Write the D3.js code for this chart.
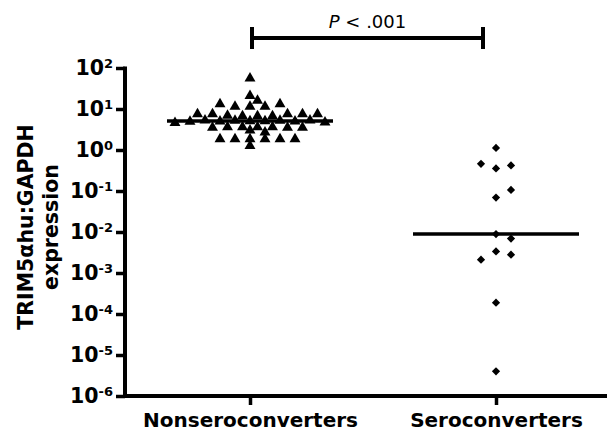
<!DOCTYPE html>
<html>
<head>
<meta charset="utf-8">
<script src="https://cdn.jsdelivr.net/npm/d3@7"></script>
<style>
  body { margin: 0; background: #fff; }
  svg { display: block; font-family: "DejaVu Sans", sans-serif; }
</style>
</head>
<body>
<div class="chart"></div>
<script>
const categories = ["Nonseroconverters", "Seroconverters"]

// TRIM5αhu:GAPDH expression
const nonseroconverters = [
    56, 21, 16, 13.2, 13.2, 11.4, 11.4, 11.4,
    7.5, 7.5, 7.5, 7.5, 7.5, 6.7, 6.7, 6.7, 6.9,
    5.2, 5.3, 5.1, 5.0, 5.2, 4.9, 5.1, 5.0, 5.3, 4.7, 4.6,
    3.6, 3.5, 3.6, 3.6, 3.0, 3.5, 3.6, 3.5, 2.7,
    1.85, 1.85, 1.85, 1.85, 1.85, 1.85, 1.27
]
const seroconverters = [
    1.12, 0.46, 0.42, 0.356, 0.106, 0.069,
    0.0089, 0.0069, 0.00336, 0.00279, 0.00211,
    0.000189, 0.000004
]

const yTicks = [1e-6, 1e-5, 1e-4, 1e-3, 1e-2, 1e-1, 1e0, 1e1, 1e2]
const yTitle = ["TRIM5αhu:GAPDH", "expression"]
const pText = ["P", " < .001"]

const width = 610
const height = 431
const margin = ({top: 68, right: 3, bottom: 35, left: 125})

const svg = d3.create("svg")
    .attr("width", width)
    .attr("height", height)

const x = d3.scalePoint()
    .domain(categories)
    .range([margin.left + 2, margin.left + 2 + 492])
    .padding(0.5)

const y = d3.scaleLog()
    .domain([1e-6, 1e2])
    .range([height - margin.bottom, margin.top])

// beeswarm: points nearest the median are placed first, each one on the
// nearest free slot of a grid (diamond shaped collision test)
function swarm(values, step, a, b) {
    const ym = y(d3.median(values))
    const pts = values.map(v => ({v, py: y(v)}))
        .sort((p, q) => Math.abs(p.py - ym) - Math.abs(q.py - ym))
    const placed = []
    pts.forEach(p => {
        for (let k = 0; k < 80; k++) {
            const off = (k === 0 ? 0 : (k % 2 ? 1 : -1) * Math.ceil(k / 2)) * step
            const free = placed.every(q =>
                Math.abs(q.dx - off) / a + Math.abs(q.py - p.py) / b >= 1)
            if (free) { p.dx = off; break }
        }
        placed.push(p)
    })
    return placed
}

// y axis
const yAxis = svg.append("g")
    .attr("transform", `translate(${margin.left},0)`)
    .call(d3.axisLeft(y).tickValues(yTicks).tickSize(9).tickSizeOuter(0).tickFormat(""))
yAxis.select(".domain").attr("stroke-width", 4)
    .attr("d", `M0,${y(1e-6) + 2}V${y(1e2) - 1.5}`)
yAxis.selectAll(".tick line").attr("stroke-width", 3.5)

yAxis.selectAll(".tick")
    .append("text")
    .attr("x", -12)
    .attr("y", 6.5)
    .attr("fill", "#000")
    .attr("text-anchor", "end")
    .style("font-size", "20.5px")
    .style("font-weight", "bold")
    .style("font-family", "DejaVu Sans")
    .each(function (d) {
        const t = d3.select(this)
        t.append("tspan").text("10")
        t.append("tspan")
            .attr("dy", -7)
            .style("font-size", "13px")
            .text(String(Math.round(Math.log10(d))))
    })

// x axis
const xAxis = svg.append("g")
    .attr("transform", `translate(0,${y(1e-6)})`)
    .call(d3.axisBottom(x).tickSize(9).tickSizeOuter(0))
xAxis.select(".domain").attr("stroke-width", 4)
    .attr("d", `M${margin.left - 2},0H${width - margin.right}`)
xAxis.selectAll(".tick line").attr("stroke-width", 3.5)
xAxis.selectAll(".tick text")
    .attr("y", 17)
    .attr("fill", "#000")
    .style("font-size", "20px")
    .style("font-weight", "bold")
    .style("font-family", "DejaVu Sans")

// y title
const title = svg.append("text")
    .attr("transform", `translate(0,${(y(1e-6) + y(1e2)) / 2 - 5}) rotate(-90)`)
    .attr("text-anchor", "middle")
    .style("font-size", "20.5px")
    .style("font-weight", "bold")
title.selectAll("tspan")
    .data(yTitle)
    .join("tspan")
    .attr("x", 0)
    .attr("y", (d, i) => 33 + i * 25)
    .text(d => d)

// significance bracket
const bx0 = x(categories[0]) + 2
const bx1 = x(categories[1]) - 13
const by = 38
svg.append("path")
    .attr("d", `M${bx0},${by - 11}V${by + 11}M${bx0},${by}H${bx1}M${bx1},${by - 11}V${by + 11}`)
    .attr("fill", "none")
    .attr("stroke", "#000")
    .attr("stroke-width", 4)

const pt = svg.append("text")
    .attr("x", (bx0 + bx1) / 2)
    .attr("y", by - 10)
    .attr("text-anchor", "middle")
    .style("font-size", "18px")
pt.append("tspan").style("font-style", "italic").text(pText[0])
pt.append("tspan").text(pText[1])

// points
const groups = [
    {name: categories[0], values: nonseroconverters,
     symbol: d3.symbol(d3.symbolTriangle, 52), rot: 0, step: 7.5, a: 14.5, b: 6.5},
    {name: categories[1], values: seroconverters,
     symbol: d3.symbol(d3.symbolSquare, 34), rot: 45, step: 15, a: 14.5, b: 9}
]

groups.forEach(g => {
    const pts = swarm(g.values, g.step, g.a, g.b)
    const cx = x(g.name)

    svg.append("g")
        .selectAll("path")
        .data(pts)
        .join("path")
        .attr("d", g.symbol)
        .attr("transform", d => `translate(${cx + d.dx},${d.py}) rotate(${g.rot})`)
        .attr("fill", "#000")

    const med = d3.median(g.values)
    svg.append("line")
        .attr("x1", cx - 83)
        .attr("x2", cx + 83)
        .attr("y1", y(med))
        .attr("y2", y(med))
        .attr("stroke", "#000")
        .attr("stroke-width", 3.5)
})

document.querySelector(".chart").appendChild(svg.node())
</script>
</body>
</html>
